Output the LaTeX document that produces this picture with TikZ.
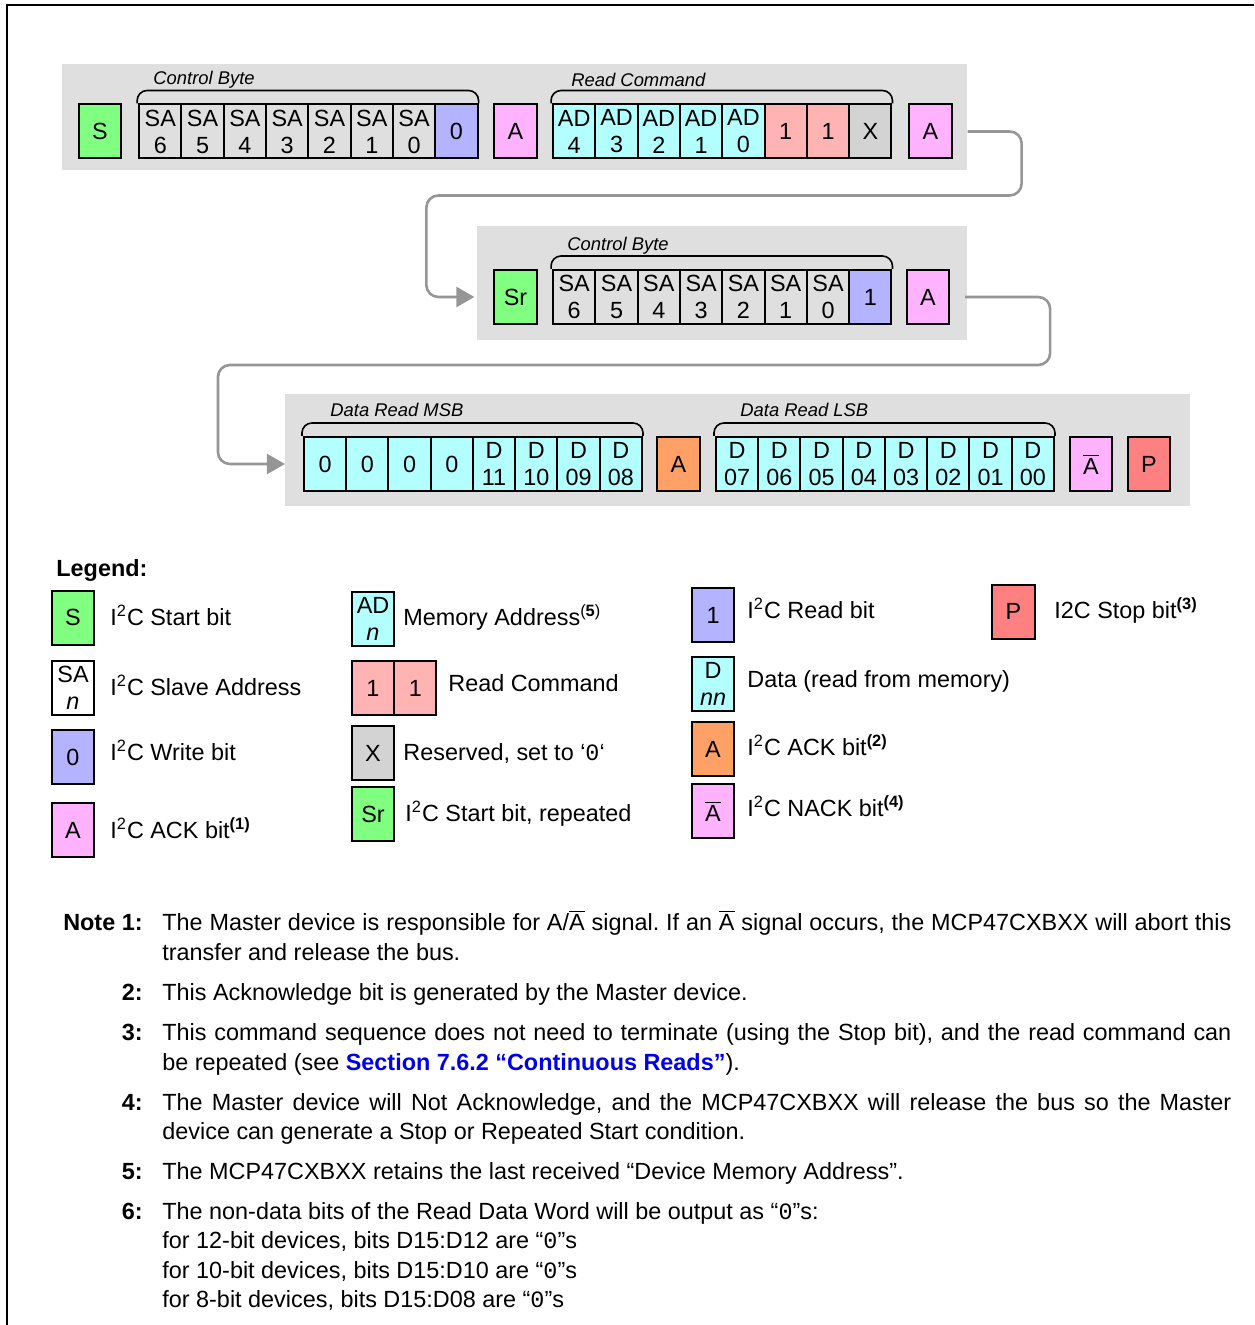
\documentclass[tikz,border=0pt]{standalone}
\usepackage{fontspec}
\setmainfont{Liberation Sans}
\newfontfamily\monofont{Liberation Mono}
\usepackage{xcolor}
\usepackage{tikz}
\usetikzlibrary{arrows.meta,calc}
\definecolor{bitgreen}{RGB}{128,255,128}
\definecolor{bitblue}{RGB}{179,179,255}
\definecolor{bitpink}{RGB}{255,179,255}
\definecolor{bitcyan}{RGB}{179,255,255}
\definecolor{bitsalmon}{RGB}{255,179,179}
\definecolor{bitgray}{RGB}{211,211,211}
\definecolor{bitorange}{RGB}{255,160,102}
\definecolor{bitred}{RGB}{255,128,128}
\definecolor{bandgray}{RGB}{223,223,223}
\definecolor{linkgray}{RGB}{150,150,150}
\definecolor{xrefblue}{RGB}{0,0,235}
\tikzset{
  bitcell/.style={draw=black, line width=1pt, inner sep=0pt, outer sep=0pt,
    minimum width=21.15pt, minimum height=27pt, align=center,
    font=\fontsize{11.7}{13.5}\selectfont},
  band/.style={fill=bandgray},
  grp/.style={line width=0.8pt, rounded corners=5pt},
  grplabel/.style={anchor=west, inner sep=0pt, font=\fontsize{9.2}{11}\selectfont\itshape},
  link/.style={linkgray, line width=1.3pt, rounded corners=6pt,
    -{Triangle[length=9pt,width=10pt]}, shorten <=8pt},
  txt/.style={anchor=base west, inner sep=0pt, font=\fontsize{11.7}{14}\selectfont},
  notenum/.style={anchor=base east, inner sep=0pt, font=\fontsize{11.7}{14}\selectfont\bfseries},
}
\newcommand{\nA}{$\overline{\mbox{A}}$}
\newcommand{\fullline}[1]{\makebox[534.5pt][s]{#1}}
\frenchspacing

\begin{document}
\begin{tikzpicture}[x=0.5pt, y=-0.5pt]
  \useasboundingbox (0,0) rectangle (1254,1325);

  % Frame
  \draw[line width=1pt] (7,1325) -- (7,5) -- (1254,5);

  % Row 1: start, control byte (write), read command
  \fill[band] (62,64) rectangle (967,170);
  \node[bitcell, fill=bitgreen] (st) at (100,131.5) {S};
  \foreach \n [count=\i from 0] in {6,5,4,3,2,1,0}
    \node[bitcell] (cbA\n) at ({160.3+42.3*\i},131.5) {SA\\\n};
  \node[bitcell, fill=bitblue] (wrA) at (456.4,131.5) {0};
  \node[bitcell, fill=bitpink] (ackA) at (515.5,131.5) {A};
  \foreach \n [count=\i from 0] in {4,3,2,1,0}
    \node[bitcell, fill=bitcyan] (ad\n) at ({574.2+42.3*\i},131.5) {AD\\\n};
  \node[bitcell, fill=bitsalmon] (rdA) at (785.7,131.5) {1};
  \node[bitcell, fill=bitsalmon] (rdB) at (828,131.5) {1};
  \node[bitcell, fill=bitgray] (rsv) at (870.3,131.5) {X};
  \node[bitcell, fill=bitpink] (ackB) at (930.5,131.5) {A};

  \node[grplabel] (cbAlbl) at (153,80) {Control Byte};
  \draw[grp] ($(cbA6.north west)+(-2,-1)$) -- ++(0,-13) -| ($(wrA.north east)+(1,-1)$);
  \node[grplabel] (rclbl) at (571,80) {Read Command};
  \draw[grp] ($(ad4.north west)+(-2,-1)$) -- ++(0,-13) -| ($(rsv.north east)+(1,-1)$);

  % Row 2: repeated start, control byte (read)
  \fill[band] (477,226) rectangle (967,340);
  \node[bitcell, fill=bitgreen] (srt) at (515.5,297) {Sr};
  \foreach \n [count=\i from 0] in {6,5,4,3,2,1,0}
    \node[bitcell] (cbB\n) at ({574.2+42.3*\i},297) {SA\\\n};
  \node[bitcell, fill=bitblue] (rdbit) at (870.3,297) {1};
  \node[bitcell, fill=bitpink] (ackC) at (928,297) {A};

  \node[grplabel] (cbBlbl) at (567,246) {Control Byte};
  \draw[grp] ($(cbB6.north west)+(-2,-1)$) -- ++(0,-13) -| ($(rdbit.north east)+(1,-1)$);

  % Row 3: data read
  \fill[band] (285,394) rectangle (1190,506);
  \foreach \t [count=\i from 0] in {0,0,0,0,D\\11,D\\10,D\\09,D\\08}
    \node[bitcell, fill=bitcyan] (msb\i) at ({325.1+42.25*\i},464) {\t};
  \node[bitcell, fill=bitorange] (ackD) at (678.5,464) {A};
  \foreach \n [count=\i from 0] in {07,06,05,04,03,02,01,00}
    \node[bitcell, fill=bitcyan] (lsb\i) at ({737.1+42.25*\i},464) {D\\\n};
  \node[bitcell, fill=bitpink] (nack) at (1091,464) {\nA};
  \node[bitcell, fill=bitred] (stp) at (1149,464) {P};

  \node[grplabel] (msblbl) at (330,410) {Data Read MSB};
  \draw[grp] ($(msb0.north west)+(-2,-1)$) -- ++(0,-13) -| ($(msb7.north east)+(1,-1)$);
  \node[grplabel] (lsblbl) at (740,410) {Data Read LSB};
  \draw[grp] ($(lsb0.north west)+(-2,-1)$) -- ++(0,-13) -| ($(lsb7.north east)+(1,-1)$);

  % Row links
  \draw[link] (ackB.east) -- ++(70,0) -- ++(0,64) -| ($(srt.west)+(-68,0)$) -- ($(srt.west)+(-20,0)$);
  \draw[link] (ackC.east) -- ++(101,0) -- ++(0,68) -| ($(msb0.west)+(-86,0)$) -- ($(msb0.west)+(-19,0)$);

  % Legend
  \node[txt, font=\fontsize{11.7}{14}\selectfont\bfseries] (lgd) at (56,576) {Legend:};

  \node[bitcell, fill=bitgreen] (lgS) at (73,617.5) {S};
  \node[bitcell] (lgSA) at (73,687.5) {SA\\\textit{n}};
  \node[bitcell, fill=bitblue] (lgW) at (73,757) {0};
  \node[bitcell, fill=bitpink] (lgA) at (73,830) {A};
  \node[txt] (lgStxt) at (110,625) {I\textsuperscript{2}C Start bit};
  \node[txt] (lgSAtxt) at (110,695) {I\textsuperscript{2}C Slave Address};
  \node[txt] (lgWtxt) at (110,760) {I\textsuperscript{2}C Write bit};
  \node[txt] (lgAtxt) at (110,838) {I\textsuperscript{2}C ACK bit\textsuperscript{\bfseries(1)}};

  \node[bitcell, fill=bitcyan] (lgAD) at (373,618.5) {AD\\\textit{n}};
  \node[bitcell, fill=bitsalmon] (lgRa) at (373,688) {1};
  \node[bitcell, fill=bitsalmon] (lgRb) at (415.3,688) {1};
  \node[bitcell, fill=bitgray] (lgX) at (373,753) {X};
  \node[bitcell, fill=bitgreen] (lgSr) at (373,814) {Sr};
  \node[txt] (lgADtxt) at (403,625) {Memory Address\textsuperscript{(\textbf{5})}};
  \node[txt] (lgRtxt) at (448,691) {Read Command};
  \node[txt] (lgXtxt) at (403,760) {Reserved, set to ‘{\monofont 0}‘};
  \node[txt] (lgSrtxt) at (405,821) {I\textsuperscript{2}C Start bit, repeated};

  \node[bitcell, fill=bitblue] (lgR) at (713,615) {1};
  \node[bitcell, fill=bitcyan] (lgD) at (713,683.5) {D\\\textit{nn}};
  \node[bitcell, fill=bitorange] (lgAo) at (713,749) {A};
  \node[bitcell, fill=bitpink] (lgN) at (713,811) {\nA};
  \node[txt] (lgRtxt2) at (747,618) {I\textsuperscript{2}C Read bit};
  \node[txt] (lgDtxt) at (747,687) {Data (read from memory)};
  \node[txt] (lgAotxt) at (747,755) {I\textsuperscript{2}C ACK bit\textsuperscript{\bfseries(2)}};
  \node[txt] (lgNtxt) at (747,816) {I\textsuperscript{2}C NACK bit\textsuperscript{\bfseries(4)}};

  \node[bitcell, fill=bitred] (lgP) at (1013.5,611.5) {P};
  \node[txt] (lgPtxt) at (1054,618) {I2C Stop bit\textsuperscript{\bfseries(3)}};

  % Notes
  \node[notenum] (nt1) at (143,930) {Note 1:};
  \node[txt] (nt1a) at (162,930) {\fullline{The Master device is responsible for A/\nA\ signal. If an \nA\ signal occurs, the MCP47CXBXX will abort this}};
  \node[txt] (nt1b) at (162,960) {transfer and release the bus.};
  \node[notenum] (nt2) at (143,1000) {2:};
  \node[txt] (nt2a) at (162,1000) {This Acknowledge bit is generated by the Master device.};
  \node[notenum] (nt3) at (143,1040) {3:};
  \node[txt] (nt3a) at (162,1040) {\fullline{This command sequence does not need to terminate (using the Stop bit), and the read command can}};
  \node[txt] (nt3b) at (162,1070) {be repeated (see {\color{xrefblue}\bfseries Section 7.6.2 “Continuous Reads”}).};
  \node[notenum] (nt4) at (143,1110) {4:};
  \node[txt] (nt4a) at (162,1110) {\fullline{The Master device will Not Acknowledge, and the MCP47CXBXX will release the bus so the Master}};
  \node[txt] (nt4b) at (162,1139) {device can generate a Stop or Repeated Start condition.};
  \node[notenum] (nt5) at (143,1179) {5:};
  \node[txt] (nt5a) at (162,1179) {The MCP47CXBXX retains the last received “Device Memory Address”.};
  \node[notenum] (nt6) at (143,1219) {6:};
  \node[txt] (nt6a) at (162,1219) {The non-data bits of the Read Data Word will be output as “{\monofont 0}”s:};
  \node[txt] (nt6b) at (162,1248) {for 12-bit devices, bits D15:D12 are “{\monofont 0}”s};
  \node[txt] (nt6c) at (162,1278) {for 10-bit devices, bits D15:D10 are “{\monofont 0}”s};
  \node[txt] (nt6d) at (162,1307) {for 8-bit devices, bits D15:D08 are “{\monofont 0}”s};
\end{tikzpicture}
\end{document}
